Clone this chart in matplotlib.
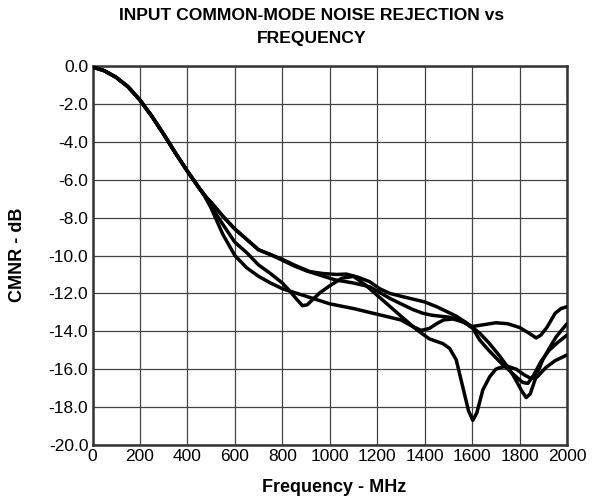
import matplotlib
matplotlib.use("Agg")
import matplotlib.pyplot as plt

plt.rcParams['font.family'] = ['Liberation Sans', 'DejaVu Sans']

# shared roll-off, 0 - 450 MHz
f_start = [0, 50, 100, 150, 200, 250, 300, 350, 400, 450]
db_start = [-0.05, -0.25, -0.6, -1.1, -1.8, -2.65, -3.6, -4.6, -5.55, -6.45]

# curve 1: upper, deep notch near 1830 MHz
f_c1 = [481, 500, 551, 600, 650, 700, 750, 800, 850, 916, 970, 1028, 1070, 1120,
        1168, 1210, 1253, 1300, 1350, 1400, 1450, 1500, 1533, 1570, 1603, 1632,
        1670, 1716, 1745, 1772, 1790, 1807, 1828, 1845, 1856, 1875, 1898, 1925,
        1954, 1980, 2000]
db_c1 = [-6.95, -7.2, -7.95, -8.6, -9.15, -9.7, -9.95, -10.2, -10.5, -10.85, -10.95,
         -11.0, -10.98, -11.15, -11.38, -11.75, -12.0, -12.15, -12.3, -12.45, -12.7,
         -13.0, -13.2, -13.5, -13.8, -14.1, -14.6, -15.3, -15.8, -16.3, -16.7, -17.1,
         -17.5, -17.3, -16.9, -16.2, -15.5, -14.9, -14.3, -13.9, -13.6]

# curve 2: upper, notch near 1815 MHz
f_c2 = [481, 500, 551, 600, 650, 700, 750, 800, 850, 900, 950, 1000, 1028, 1100,
        1168, 1210, 1253, 1300, 1350, 1393, 1430, 1463, 1500, 1533, 1570, 1603,
        1632, 1670, 1716, 1760, 1790, 1814, 1835, 1860, 1890, 1925, 1960, 2000]
db_c2 = [-6.95, -7.2, -7.95, -8.6, -9.15, -9.7, -9.95, -10.25, -10.55, -10.8, -11.0,
         -11.2, -11.3, -11.45, -11.65, -11.95, -12.26, -12.55, -12.85, -13.05, -13.15,
         -13.2, -13.25, -13.35, -13.55, -13.85, -14.46, -15.0, -15.6, -16.1, -16.45,
         -16.7, -16.75, -16.3, -15.6, -15.0, -14.6, -14.2]

# curve 3: dip at 900 MHz, deep notch at 1600 MHz
f_c3 = [470, 520, 565, 600, 650, 700, 750, 800, 830, 860, 885, 905, 930, 960, 1000,
        1050, 1100, 1150, 1200, 1250, 1300, 1365, 1420, 1477, 1505, 1533, 1560,
        1585, 1603, 1620, 1645, 1674, 1700, 1720, 1750, 1786, 1820, 1850, 1875,
        1912, 1950, 2000]
db_c3 = [-6.8, -7.8, -8.65, -9.3, -9.85, -10.5, -10.95, -11.45, -11.85, -12.3, -12.65,
         -12.6, -12.3, -11.95, -11.6, -11.2, -11.1, -11.55, -12.1, -12.65, -13.2,
         -13.9, -14.4, -14.65, -14.9, -15.5, -16.9, -18.2, -18.7, -18.3, -17.1, -16.4,
         -16.0, -15.9, -15.85, -16.0, -16.3, -16.5, -16.4, -15.9, -15.55, -15.25]

# curve 4: lowest mid-band, flat near -13.6 dB, small notch at 1870 MHz
f_c4 = [470, 500, 550, 600, 650, 700, 750, 800, 900, 1000, 1100, 1200, 1300, 1350,
        1385, 1420, 1450, 1480, 1520, 1560, 1600, 1650, 1700, 1750, 1800, 1840,
        1870, 1890, 1915, 1950, 1975, 2000]
db_c4 = [-6.8, -7.5, -8.9, -10.0, -10.65, -11.1, -11.45, -11.75, -12.15, -12.55, -12.8,
         -13.1, -13.4, -13.75, -13.95, -13.85, -13.6, -13.4, -13.35, -13.5, -13.75,
         -13.65, -13.55, -13.6, -13.8, -14.1, -14.35, -14.2, -13.8, -13.05, -12.8, -12.7]

x_ticks = [0, 200, 400, 600, 800, 1000, 1200, 1400, 1600, 1800, 2000]
y_ticks = [0, -2, -4, -6, -8, -10, -12, -14, -16, -18, -20]

fig = plt.figure(figsize=(5.94, 5.04), dpi=100)
ax = fig.add_axes([92.5 / 594, 59 / 504, 474.5 / 594, 379 / 504])

for f, db in [(f_c1, db_c1), (f_c2, db_c2), (f_c3, db_c3), (f_c4, db_c4)]:
    ax.plot(f_start + f, db_start + db, color='black', lw=2.5,
            solid_joinstyle='round', solid_capstyle='round', zorder=3)

ax.set_xlim(0, 2000)
ax.set_ylim(-20, 0)
ax.set_xticks(x_ticks)
ax.set_yticks(y_ticks)
ax.set_xticklabels([str(v) for v in x_ticks])
ax.set_yticklabels(['%.1f' % v for v in y_ticks])
ax.tick_params(length=0, labelsize=12.5, pad=3, colors='black')
ax.grid(True, color='#444444', lw=0.9)
for s in ax.spines.values():
    s.set_color('#333333')
    s.set_linewidth(1.8)

fig.text(312 / 594, 1 - 20 / 504, 'INPUT COMMON-MODE NOISE REJECTION vs',
         ha='center', va='baseline', fontsize=12.6, fontweight='bold')
fig.text(312 / 594, 1 - 43 / 504, 'FREQUENCY',
         ha='center', va='baseline', fontsize=12.6, fontweight='bold')
fig.text(334 / 594, 1 - 487 / 504, 'Frequency - MHz', ha='center', va='center',
         fontsize=13, fontweight='bold')
fig.text(18 / 594, 1 - 255 / 504, 'CMNR - dB', ha='center', va='center',
         rotation=90, fontsize=13, fontweight='bold')

fig.savefig('out.png', dpi=100)
